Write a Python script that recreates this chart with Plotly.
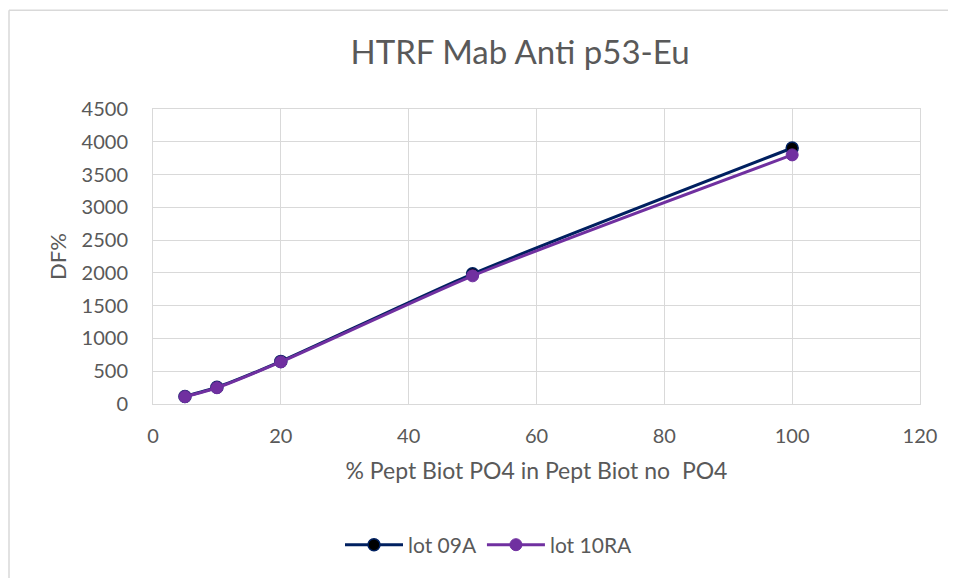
import plotly.graph_objects as go

x_pct = [5, 10, 20, 50, 100]
lot_09A = [115, 255, 650, 1985, 3905]
lot_10RA = [112, 248, 642, 1955, 3800]

FONT = "Lato"
GREY = "#595959"

# the page is drawn with an 8px body offset; compensate so the plot area lands where it should
W, H = 948, 570
L, R, T, B = 145, 36, 101, 172
PW, PH = W - L - R, H - T - B

fig = go.Figure()
fig.add_trace(go.Scatter(
    x=x_pct, y=lot_09A, name="lot 09A", mode="lines+markers",
    line=dict(color="#002060", width=3, shape="spline", smoothing=0.6),
    marker=dict(color="#000000", size=12, line=dict(color="#002060", width=1.5)),
))
fig.add_trace(go.Scatter(
    x=x_pct, y=lot_10RA, name="lot 10RA", mode="lines+markers",
    line=dict(color="#7030A0", width=3, shape="spline", smoothing=0.6),
    marker=dict(color="#7030A0", size=12, line=dict(color="#7030A0", width=1)),
))

fig.update_layout(
    width=W, height=H,
    margin=dict(l=L, r=R, t=T, b=B),
    paper_bgcolor="white", plot_bgcolor="white",
    font=dict(family=FONT, color=GREY, size=19),
    title=dict(text="HTRF Mab Anti p53-Eu", x=(520 - 8 - L) / PW, xref="paper", xanchor="center",
               y=1 - 44 / H, yanchor="middle",
               font=dict(family=FONT, size=33, color=GREY)),
    showlegend=True,
    legend=dict(orientation="h", x=(489 - 8 - L) / PW, xanchor="center",
                y=(406 - 548) / PH, yanchor="middle",
                font=dict(family=FONT, size=21, color=GREY), itemwidth=58),
    xaxis=dict(range=[0, 120], dtick=20, tick0=0, showgrid=True, gridcolor="#d9d9d9",
               gridwidth=1, zeroline=False, showline=True, linecolor="#d9d9d9",
               linewidth=1, mirror=True, ticks="", ticklabelstandoff=14,
               tickfont=dict(size=20, color=GREY),
               title=dict(text="% Pept Biot PO4 in Pept Biot no &nbsp;PO4", standoff=16,
                          font=dict(size=23, color=GREY))),
    yaxis=dict(range=[0, 4500], dtick=500, tick0=0, showgrid=True, gridcolor="#d9d9d9",
               gridwidth=1, zeroline=False, showline=True, linecolor="#d9d9d9",
               linewidth=1, mirror=True, ticks="", ticklabelstandoff=20,
               tickfont=dict(size=20, color=GREY),
               title=dict(text="DF%", standoff=8, font=dict(size=22, color=GREY))),
)

# chart-area border (only left & top edges are visible in the window)
bx = (9 - 8 - L) / PW
by = (406 - 9.5) / PH
fig.add_shape(type="line", xref="paper", yref="paper", x0=bx, x1=bx, y0=-1.0, y1=by,
              line=dict(color="#d9d9d9", width=1.5), layer="below")
fig.add_shape(type="line", xref="paper", yref="paper", x0=bx, x1=1.2, y0=by, y1=by,
              line=dict(color="#d9d9d9", width=1.5), layer="below")

fig.write_html("out.html")
